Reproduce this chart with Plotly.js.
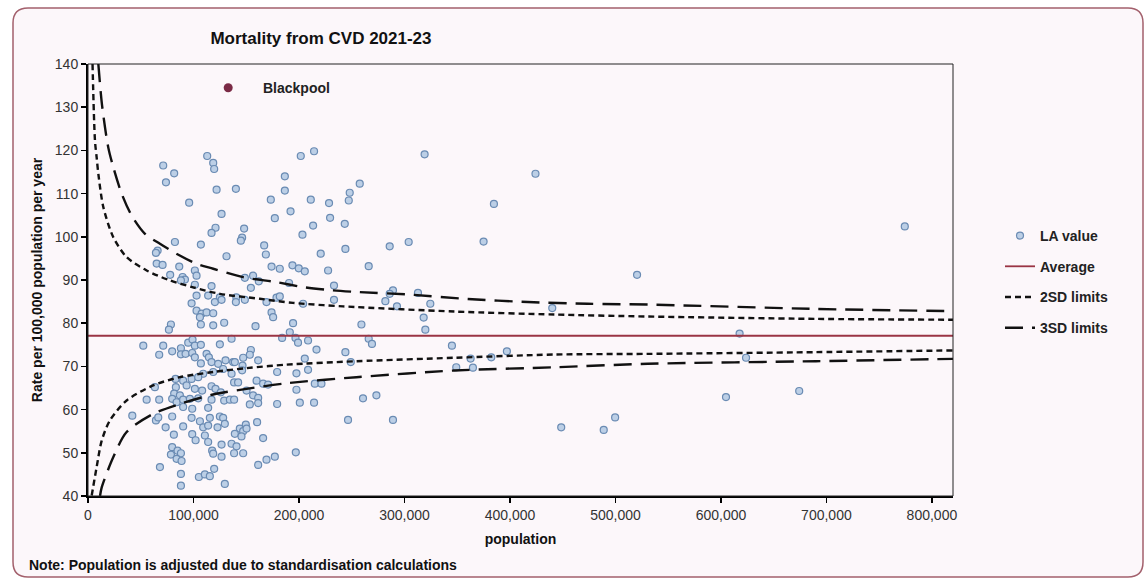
<!DOCTYPE html>
<html>
<head>
<meta charset="utf-8">
<script src="https://cdn.plot.ly/plotly-3.0.1.min.js"></script>
<style>html,body{margin:0;padding:0;background:#fff;}#chart{width:1144px;height:584px;}</style>
</head>
<body>
<div id="chart"></div>
<script>
// ---- Data ----
var laPop = [113000,118700,119600,71300,81700,73900,121900,95900,126600,120900,117100,82400,107000,66000,64400,131300,65100,70700,86500,101300,
102900,77900,89700,91900,88100,101300,117100,102900,113900,125000,120300,98200,126600,102900,107700,112400,118700,106100,78600,76700,
107000,118700,129100,52400,71300,79800,67500,88100,95000,99100,101300,107000,125000,88100,92500,98800,101300,112400,114600,107000,
117100,123400,130400,137600,118700,128100,109200,83000,90200,98200,104500,136100,63400,83300,93500,101300,108200,117100,120900,125900,
81700,87100,55600,67500,79800,84000,90200,96600,104500,117100,129100,134500,90200,98800,113900,42000,64400,66600,79800,98200,
106100,115500,125000,128100,73600,90200,109200,113900,122800,129700,81400,98800,102000,110800,113900,79800,84900,88100,78600,84000,
117700,126600,136100,126600,118700,88700,68200,88100,105100,110800,115500,119600,129700,88100,
201700,214300,186600,186600,140200,173300,211200,228500,248100,247200,257600,192000,177100,229500,243400,213400,148000,146100,144900,203300,
167000,168600,220600,244000,174000,181800,193800,199800,205500,227600,148700,156500,161900,154400,190600,233200,140600,140200,148700,169200,
178700,181800,203900,233200,174000,175500,194400,158800,259200,191300,184000,196700,199100,208600,136100,154400,153400,147100,161300,139200,
146500,146100,216600,205500,244000,249100,208600,179300,197600,138500,142300,159800,166000,170700,215000,221300,150300,156500,161300,138500,
153400,161300,179300,200800,214300,197600,260700,246500,160300,149600,143900,147100,150300,139200,145500,166000,140800,138500,147100,177100,
169200,161300,197000,
319100,424200,384800,286000,304000,375000,266100,520500,289100,286000,312800,281900,292900,324500,318200,440100,319800,266100,269200,345000,
397100,362700,382300,349100,364900,273400,289100,448600,488900,499700,774300,617700,623800,604800,674200];
var laRate = [118.7,117.1,115.7,116.5,114.7,112.6,110.9,107.9,105.3,102.1,100.9,98.8,98.2,96.8,96.3,95.5,93.8,93.5,93.1,92.2,
91.0,91.2,90.7,90.1,89.9,88.9,88.6,86.4,86.4,86.0,84.9,84.6,85.4,82.9,82.2,82.5,82.3,81.4,79.7,78.5,
79.7,79.5,80.1,74.8,74.8,73.5,72.7,74.2,75.5,76.2,74.8,75.0,75.1,72.8,72.9,73.1,72.1,72.9,72.1,70.7,
71.0,70.6,71.4,71.0,68.7,69.4,68.3,67.1,66.7,67.1,67.5,68.3,65.2,65.2,65.6,64.8,64.4,65.4,64.8,64.0,
63.7,63.3,62.3,62.3,62.5,61.7,62.3,62.5,62.6,62.3,62.1,62.3,60.6,60.2,60.4,58.6,57.5,58.2,58.4,58.1,
57.3,58.1,58.4,58.1,55.9,56.1,55.9,56.3,55.9,56.7,54.2,54.3,52.9,54.0,52.5,51.3,50.5,49.9,49.6,48.6,
50.5,51.9,52.1,49.1,49.8,48.1,46.7,45.1,44.4,45.0,44.6,46.3,42.8,42.4,
118.7,119.8,114.0,110.7,111.1,108.6,108.6,107.8,110.2,108.4,112.3,105.9,104.3,104.4,103.0,102.6,101.9,99.8,99.1,100.5,
98.0,95.9,96.1,97.2,93.1,92.6,93.4,92.7,92.0,92.2,90.5,91.0,89.7,88.2,89.3,88.7,86.0,84.9,85.4,84.9,
85.9,86.2,84.5,85.4,82.5,81.4,80.0,79.3,79.7,77.9,76.6,76.6,75.5,76.0,76.4,73.8,72.7,72.0,71.4,71.0,
70.2,69.1,73.9,71.8,73.3,71.0,69.2,68.7,68.4,66.3,66.3,66.7,66.0,65.8,66.0,66.0,64.4,63.3,62.7,62.3,
61.2,61.5,61.3,61.6,61.6,64.6,62.6,57.6,57.1,56.5,55.6,55.0,55.6,54.4,53.8,53.4,51.5,49.9,49.9,49.1,
48.4,47.2,50.1,
119.1,114.6,107.6,97.8,98.8,98.9,93.2,91.2,87.6,86.8,87.0,85.1,83.9,84.5,81.3,83.5,78.5,76.4,75.2,74.8,
73.5,71.8,72.1,69.8,69.7,63.3,57.6,55.9,55.3,58.2,102.4,77.6,72.0,62.9,64.3];

var outlierName = ['Blackpool'];
var outlierPop = [132900];
var outlierRate = [134.5];

var avgPop = [0, 820000];
var avgRate = [77.1, 77.1];

var up2Pop = [4300,6600,8200,9800,14500,24000,36600,55600,77700,99700,125000,162900,194400,241800,347500,442200,530600,690000,820000];
var up2Rate = [140,122.3,118.4,114.6,106.9,99.9,95.3,92.2,89.9,88.3,86.8,85.65,84.7,83.9,82.7,82.0,81.55,81.0,80.8];
var lo2Pop = [3500,8200,13000,20800,36600,61800,87100,118700,150300,188200,254400,347500,442200,530600,690000,820000];
var lo2Rate = [40.1,46.7,52.8,57.5,62.1,65.6,67.5,68.7,69.6,70.4,71.2,72.0,72.75,72.9,73.3,73.7];
var up3Pop = [9800,13300,19200,24000,31900,41400,54000,68200,85200,102900,118700,147100,178700,205500,232300,257600,303300,360100,417000,473800,533000,690000,820000];
var up3Rate = [140,130.5,120.7,116.1,110.0,104.9,100.7,98.4,95.9,93.75,92.6,90.65,89.5,88.3,87.6,87.2,86.65,85.6,84.9,84.5,84.3,83.3,82.8];
var lo3Pop = [11400,13000,24000,36600,61800,87100,118700,150300,188200,254400,347500,442200,530600,690000,820000];
var lo3Rate = [40,42.0,49.0,54.8,59.0,61.3,63.5,64.8,66.1,67.5,69.05,69.8,70.6,71.2,71.75];

var xTicks = [0,100000,200000,300000,400000,500000,600000,700000,800000];
var yTicks = [40,50,60,70,80,90,100,110,120,130,140];

var titleText = 'Mortality from CVD 2021-23';
var yTitle = 'Rate per 100,000 population per year';
var xTitle = 'population';
var noteText = 'Note: Population is adjusted due to standardisation calculations';

// ---- Layout helpers (pixel -> paper) ----
var W = 1144, H = 584, ML = 88, MR = 191, MT = 64, MB = 88;
var PW = W - ML - MR, PH = H - MT - MB;
function px(x){ return (x - ML) / PW; }
function py(y){ return (H - MB - y) / PH; }
function framePath(x0,y0,x1,y1,r){
  function P(x,y){ return px(x)+','+py(y); }
  return 'M'+P(x0+r,y0)+' L'+P(x1-r,y0)+' Q'+P(x1,y0)+' '+P(x1,y0+r)+
         ' L'+P(x1,y1-r)+' Q'+P(x1,y1)+' '+P(x1-r,y1)+
         ' L'+P(x0+r,y1)+' Q'+P(x0,y1)+' '+P(x0,y1-r)+
         ' L'+P(x0,y0+r)+' Q'+P(x0,y0)+' '+P(x0+r,y0)+' Z';
}

var FONT = 'Liberation Sans, Arial, sans-serif';
var limitLine2 = {color:'#111', width:2.4, dash:'6px,4px', shape:'spline', smoothing:0.8};
var limitLine3 = {color:'#111', width:2.4, dash:'18px,9px', shape:'spline', smoothing:0.8};

var traces = [
  {x: laPop, y: laRate, type:'scatter', mode:'markers', name:'LA value', legendgroup:'a',
   marker:{size:7, color:'#bccfe6', line:{color:'#6a8bb3', width:1.2}}, cliponaxis:true},
  {x: avgPop, y: avgRate, type:'scatter', mode:'lines', name:'Average', legendgroup:'b',
   line:{color:'#9a3444', width:1.8}},
  {x: up2Pop, y: up2Rate, type:'scatter', mode:'lines', name:'2SD limits', legendgroup:'c', line:limitLine2},
  {x: lo2Pop, y: lo2Rate, type:'scatter', mode:'lines', name:'2SD limits', legendgroup:'c', showlegend:false, line:limitLine2},
  {x: up3Pop, y: up3Rate, type:'scatter', mode:'lines', name:'3SD limits', legendgroup:'d', line:limitLine3},
  {x: lo3Pop, y: lo3Rate, type:'scatter', mode:'lines', name:'3SD limits', legendgroup:'d', showlegend:false, line:limitLine3},
  {x: outlierPop, y: outlierRate, type:'scatter', mode:'markers', name:outlierName[0], showlegend:false,
   marker:{size:9, color:'#7a2a45'}}
];

var layout = {
  width: W, height: H,
  margin:{l:ML, r:MR, t:MT, b:MB, pad:0},
  paper_bgcolor:'#ffffff', plot_bgcolor:'rgba(0,0,0,0)',
  font:{family:FONT, size:14, color:'#222'},
  showlegend:true,
  title:{text:titleText, x:321/W, xref:'container', xanchor:'center', y:1-38/H, yref:'container', yanchor:'middle',
         font:{family:FONT, size:17, weight:'bold', color:'#111'}},
  xaxis:{range:[0,820000], tickvals:xTicks, tickformat:',d', showgrid:false, zeroline:false,
         showline:true, linecolor:'#000', linewidth:2, ticks:'outside', ticklen:5, tickwidth:1.5, tickcolor:'#000',
         tickfont:{family:FONT, size:14, color:'#333'},
         title:{text:xTitle, standoff:12, font:{family:FONT, size:14, weight:'bold', color:'#111'}}},
  yaxis:{range:[40,140], tickvals:yTicks, showgrid:false, zeroline:false,
         showline:true, linecolor:'#000', linewidth:2, ticks:'outside', ticklen:5, tickwidth:1.5, tickcolor:'#000',
         tickfont:{family:FONT, size:14, color:'#333'},
         title:{text:yTitle, standoff:9, font:{family:FONT, size:14, weight:'bold', color:'#111'}}},
  legend:{x:px(1000), xanchor:'left', y:py(220), yanchor:'top', bgcolor:'rgba(0,0,0,0)',
          traceorder:'grouped', tracegroupgap:9.5,
          font:{family:FONT, size:14, weight:'bold', color:'#222'}},
  shapes:[
    {type:'path', xref:'paper', yref:'paper', path:framePath(13,8,1143,577,15), layer:'below',
     fillcolor:'#fcf7fa', line:{color:'#a3606c', width:1.5}},
    {type:'rect', xref:'paper', yref:'paper', x0:0, x1:1, y0:0, y1:1, layer:'above',
     line:{color:'#222', width:1}}
  ],
  annotations:[
    {xref:'x', yref:'y', x:outlierPop[0], y:outlierRate[0], text:outlierName[0], showarrow:false,
     xanchor:'left', xshift:33, font:{family:FONT, size:14, weight:'bold', color:'#222'}},
    {xref:'paper', yref:'paper', x:px(26.5), y:py(565), text:noteText, showarrow:false,
     xanchor:'left', yanchor:'middle', font:{family:FONT, size:14, weight:'bold', color:'#111'}}
  ]
};

Plotly.newPlot('chart', traces, layout, {displayModeBar:false, staticPlot:true});
</script>
</body>
</html>
